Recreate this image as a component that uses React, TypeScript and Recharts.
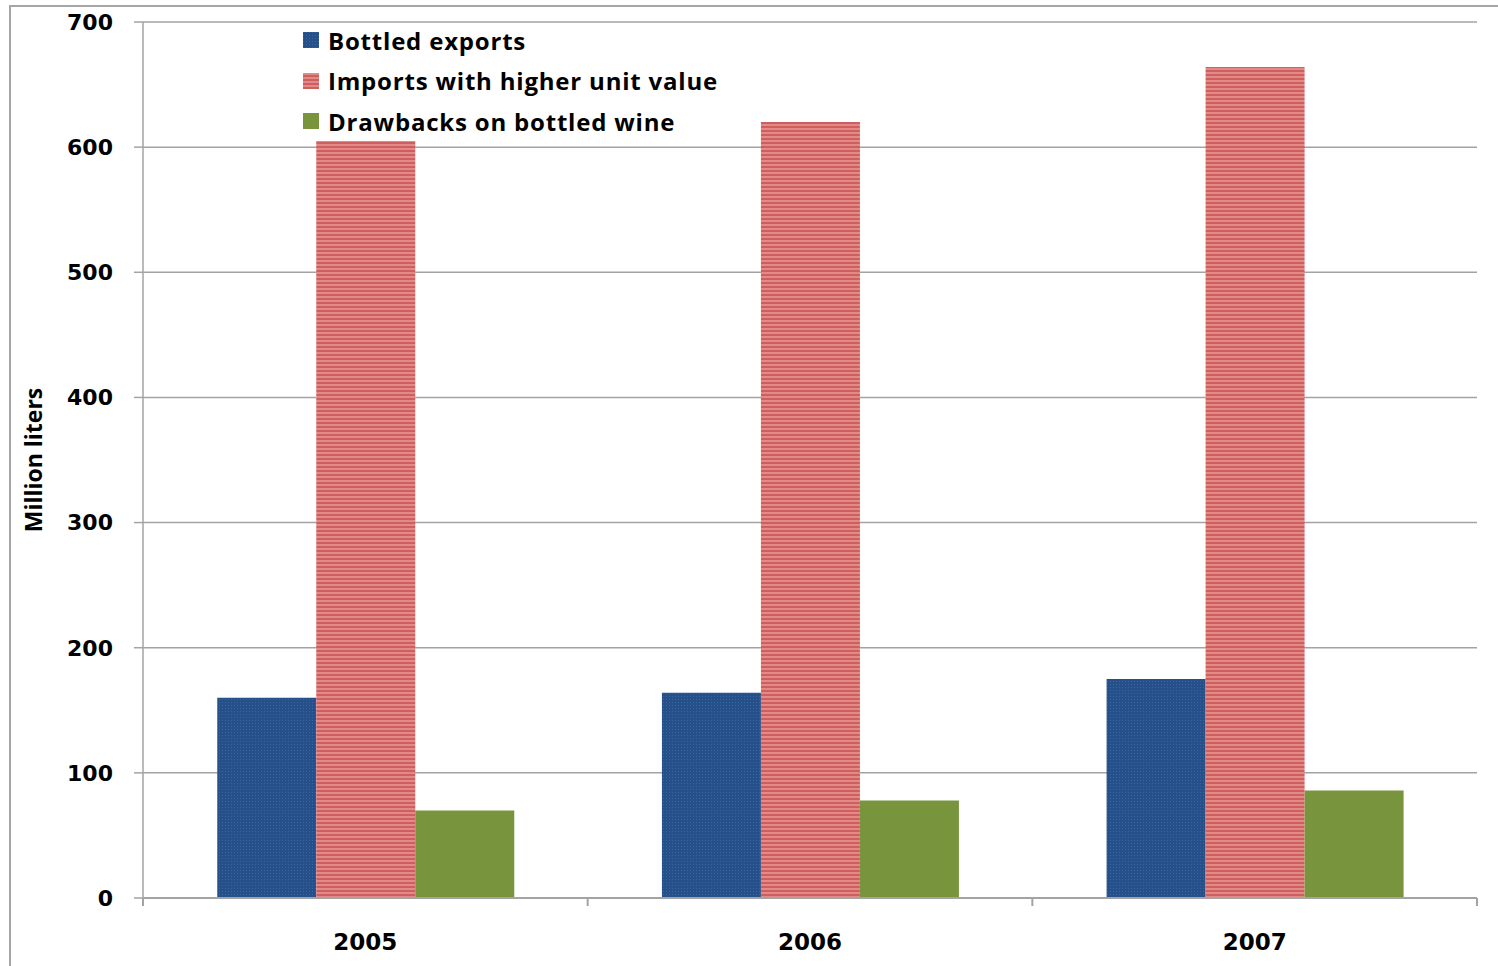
import React from "react";
import { BarChart, Bar, XAxis, YAxis, CartesianGrid, Legend } from "recharts";

const YEARS = ["2005", "2006", "2007"];
const BOTTLED_EXPORTS = [160, 164, 175];
const IMPORTS_HIGHER = [605, 620, 664];
const DRAWBACKS = [70, 78, 86];
const Y_TICKS = [0, 100, 200, 300, 400, 500, 600, 700];
const SERIES = ["Bottled exports", "Imports with higher unit value", "Drawbacks on bottled wine"];

const data = YEARS.map((y, i) => ({
  year: y,
  [SERIES[0]]: BOTTLED_EXPORTS[i],
  [SERIES[1]]: IMPORTS_HIGHER[i],
  [SERIES[2]]: DRAWBACKS[i],
}));

const GRID = "#a3a3a3";
const BLUE = "#25508a";
const GREEN = "#78953d";
const FILLS = ["url(#bluePat)", "url(#redPat)", GREEN];
const FONT = "'Open Sans', sans-serif";
const TICK_FONT = "'DejaVu Sans', sans-serif";
const X_TICK_MARGIN = 36;

function LegendBox() {
  return (
    <div style={{ fontFamily: FONT, fontWeight: 700, fontSize: 24, letterSpacing: 0.8, color: "#000" }}>
      {SERIES.map((s, i) => (
        <div key={s} style={{ display: "flex", alignItems: "center", height: 40.5 }}>
          <svg width={16} height={16} style={{ marginRight: 9 }}>
            <rect width={16} height={16} fill={FILLS[i]} />
          </svg>
          <span style={{ whiteSpace: "nowrap" }}>{s}</span>
        </div>
      ))}
    </div>
  );
}

// year label plus the small tick marks at the category edges
function YearTick(props: any) {
  const { x, y, payload, index, visibleTicksCount } = props;
  const half = payload.offset || 0;
  const axisY = y - X_TICK_MARGIN;
  const last = index === visibleTicksCount - 1;
  return (
    <g>
      <line x1={x - half} x2={x - half} y1={axisY} y2={axisY + 8} stroke={GRID} strokeWidth={2} />
      {last && <line x1={x + half} x2={x + half} y1={axisY} y2={axisY + 8} stroke={GRID} strokeWidth={2} />}
      <text
        x={x}
        y={y}
        dy="0.71em"
        textAnchor="middle"
        fill="#000"
        style={{ fontFamily: TICK_FONT, fontWeight: 700, fontSize: 23 }}
      >
        {payload.value}
      </text>
    </g>
  );
}

export default function App() {
  return (
    <div style={{ position: "absolute", left: 0, top: 0, width: 1498, height: 966, background: "#fff", overflow: "hidden" }}>
      <div
        style={{
          position: "absolute",
          left: 9,
          top: 5,
          width: 1520,
          height: 1000,
          border: "2px solid #a6a6a6",
        }}
      />
      <div style={{ position: "absolute", left: 0, top: 0 }}>
        <BarChart
          width={1498}
          height={966}
          data={data}
          margin={{ top: 22, right: 21, left: 0, bottom: 0 }}
          barCategoryGap="16.7%"
          barGap={0}
        >
          <defs>
            <pattern id="bluePat" width="3" height="3" patternUnits="userSpaceOnUse">
              <rect width="3" height="3" fill={BLUE} />
              <rect width="1" height="1" fill="#3a64a0" />
            </pattern>
            <pattern id="redPat" width="4" height="4" patternUnits="userSpaceOnUse">
              <rect width="4" height="4" fill="#cf5f5f" />
              <rect width="4" height="2" fill="#e28a88" />
            </pattern>
          </defs>
          <CartesianGrid vertical={false} stroke={GRID} strokeWidth={1.5} />
          <XAxis
            dataKey="year"
            axisLine={{ stroke: GRID, strokeWidth: 2 }}
            tickLine={false}
            tickSize={0}
            tickMargin={X_TICK_MARGIN}
            height={68}
            interval={0}
            tick={<YearTick />}
          />
          <YAxis
            domain={[0, 700]}
            ticks={Y_TICKS}
            interval={0}
            width={143}
            axisLine={{ stroke: GRID, strokeWidth: 1.5 }}
            tickLine={{ stroke: GRID, strokeWidth: 1.5 }}
            tickSize={9}
            tickMargin={21}
            tick={{ fill: "#000", fontFamily: TICK_FONT, fontWeight: 700, fontSize: 22 }}
            label={{
              value: "Million liters",
              angle: -90,
              position: "insideLeft",
              offset: 34,
              style: { fill: "#000", fontFamily: FONT, fontWeight: 700, fontSize: 23, textAnchor: "middle" },
            }}
          />
          <Legend
            layout="vertical"
            verticalAlign="middle"
            align="center"
            content={() => <LegendBox />}
            wrapperStyle={{ left: 303, top: 20, width: 500 }}
          />
          {SERIES.map((s, i) => (
            <Bar key={s} dataKey={s} fill={FILLS[i]} isAnimationActive={false} />
          ))}
        </BarChart>
      </div>
    </div>
  );
}
